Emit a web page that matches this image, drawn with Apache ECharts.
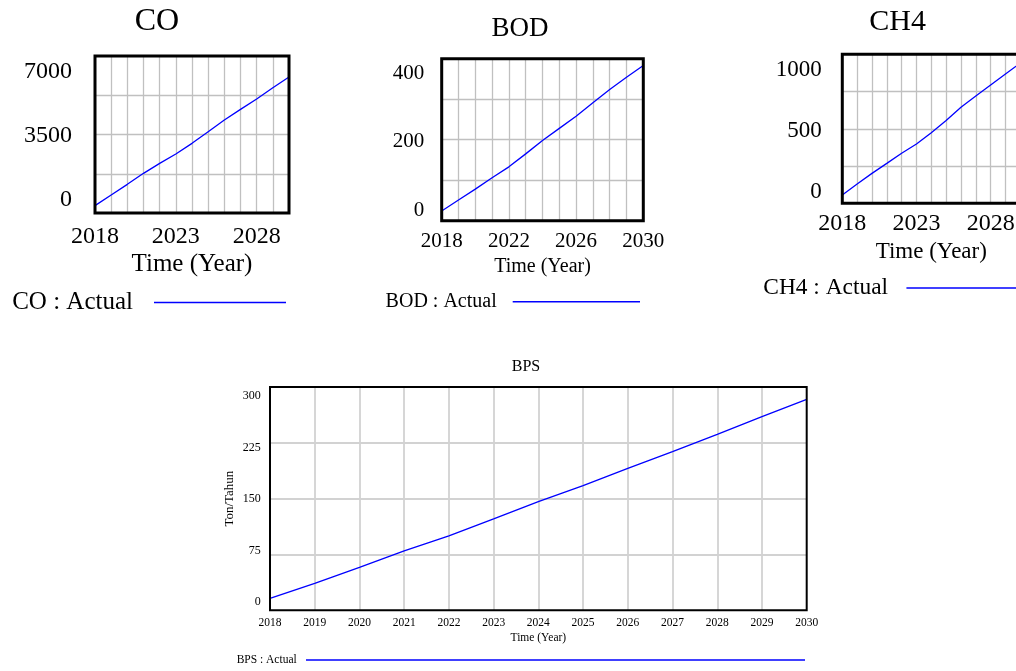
<!DOCTYPE html>
<html><head><meta charset="utf-8">
<script src="https://cdn.jsdelivr.net/npm/echarts@6/dist/echarts.min.js"></script>
<style>html,body{margin:0;padding:0;background:#fff}#c{width:1016px;height:671px}</style>
</head><body><div id="c"></div>
<script>
// ---- data ----
const years = [2018, 2019, 2020, 2021, 2022, 2023, 2024, 2025, 2026, 2027, 2028, 2029, 2030];
const coActual  = [327, 803, 1278, 1769, 2214, 2631, 3106, 3626, 4146, 4622, 5083, 5588, 6064];
const bodActual = [24, 51, 78, 106, 133, 165, 198, 228, 258, 291, 324, 354, 383];
const ch4Actual = [56, 130, 201, 268, 336, 398, 474, 555, 644, 720, 794, 868, 941];
const bpsActual = [16.1, 36.3, 57.8, 79.7, 99.9, 122.7, 146, 167.5, 190.8, 213.2, 236.4, 260.2, 283.5];

const coYTicks  = [0, 3500, 7000];
const coXTicks  = [2018, 2023, 2028];
const bodYTicks = [0, 200, 400];
const bodXTicks = [2018, 2022, 2026, 2030];
const ch4YTicks = [0, 500, 1000];
const ch4XTicks = [2018, 2023, 2028];
const bpsYTicks = [0, 75, 150, 225, 300];
const bpsXTicks = years;

const titles = ['CO', 'BOD', 'CH4', 'BPS'];
const seriesNames = ['CO : Actual', 'BOD : Actual', 'CH4 : Actual', 'BPS : Actual'];
const xName = 'Time (Year)';
const bpsYName = 'Ton/Tahun';

// ---- layout ----
const FONT = "'Liberation Serif','Times New Roman',serif";
const smallGrid = {color: '#c0c0c0', width: 1.3};
const bigGrid = {color: '#d2d2d2', width: 1.8};
const panels = [
  { data: coActual, yMax: 7000, yTicks: coYTicks, xTicks: coXTicks,
    grid: {left: 95, top: 56, width: 194, height: 157}, border: 3, inset: [16, 13], gl: smallGrid,
    fs: {y: 24, x: 24, name: 25, legend: 25, title: 32}, yMargin: 23, xMargin: 12, nameGap: 39,
    title: [157, 22], legend: {right: 730, top: 290, itemWidth: 132, gap: 16} },
  { data: bodActual, yMax: 400, yTicks: bodYTicks, xTicks: bodXTicks,
    grid: {left: 441.7, top: 58.7, width: 201.6, height: 162}, border: 3, inset: [14.3, 10.7], gl: smallGrid,
    fs: {y: 21, x: 21, name: 20, legend: 20, title: 27}, yMargin: 17.5, xMargin: 10.5, nameGap: 36,
    title: [520, 28.5], legend: {right: 376, top: 291.7, itemWidth: 127.3, gap: 11} },
  { data: ch4Actual, yMax: 1000, yTicks: ch4YTicks, xTicks: ch4XTicks,
    grid: {left: 842.3, top: 54.3, width: 178, height: 149}, border: 3, inset: [15.7, 11.6], gl: smallGrid,
    fs: {y: 23, x: 24, name: 23, legend: 23.4, title: 30}, yMargin: 20.5, xMargin: 8.7, nameGap: 37.5,
    title: [897.7, 22], legend: {left: 763.3, top: 276.6, itemWidth: 160, gap: 13.4} },
  { data: bpsActual, yMax: 300, yTicks: bpsYTicks, xTicks: bpsXTicks,
    grid: {left: 270, top: 387, width: 536.7, height: 223.3}, border: 2, inset: [8.7, 8], gl: bigGrid,
    fs: {y: 12, x: 11.5, name: 11.5, legend: 11.5, title: 16}, yMargin: 9.3, xMargin: 6.4, nameGap: 22,
    title: [526, 366.7], legend: {right: 211, top: 654, itemWidth: 499, gap: 4.3} }
];

const option = {
  backgroundColor: '#fff',
  animation: false,
  grid: [], xAxis: [], yAxis: [], series: [], legend: [], graphic: []
};

panels.forEach((p, i) => {
  option.grid.push(Object.assign({show: true, borderColor: '#000', borderWidth: p.border,
    backgroundColor: 'transparent', z: 3, containLabel: false, outerBoundsMode: 'none'}, p.grid));
  option.xAxis.push({
    type: 'value', gridIndex: i, min: years[0], max: years[years.length - 1], interval: 1,
    axisLine: {show: false}, axisTick: {show: false},
    splitLine: {show: true, showMinLine: false, showMaxLine: false, lineStyle: p.gl},
    axisLabel: {formatter: v => p.xTicks.includes(v) ? String(v) : '', fontSize: p.fs.x,
      fontFamily: FONT, color: '#000', margin: p.xMargin},
    name: xName, nameLocation: 'middle', nameGap: p.nameGap,
    nameTextStyle: {fontSize: p.fs.name, fontFamily: FONT, color: '#000'}
  });
  const mainY = {
    type: 'value', gridIndex: i, position: 'left', min: 0, max: p.yMax, interval: p.yMax / 4,
    axisLine: {show: false}, axisTick: {show: false}, axisLabel: {show: false},
    splitLine: {show: true, showMinLine: false, showMaxLine: false, lineStyle: p.gl}
  };
  if (i === 3) {
    Object.assign(mainY, {name: bpsYName, nameLocation: 'middle', nameRotate: 90, nameGap: 34,
      nameTextStyle: {fontSize: 13, fontFamily: FONT, color: '#000'}});
  }
  option.yAxis.push(mainY);
  // label axis: the end labels sit inset from the frame
  const k = p.yMax / (p.grid.height - p.inset[0] - p.inset[1]);
  option.yAxis.push({
    type: 'value', gridIndex: i, position: 'left',
    min: -p.inset[1] * k, max: p.yMax + p.inset[0] * k,
    axisLine: {show: false}, axisTick: {show: false}, splitLine: {show: false},
    axisLabel: {customValues: p.yTicks, formatter: v => String(v), fontSize: p.fs.y,
      fontFamily: FONT, color: '#000', margin: p.yMargin}
  });
  option.series.push({
    type: 'line', name: seriesNames[i], xAxisIndex: i, yAxisIndex: 2 * i,
    data: years.map((y, j) => [y, p.data[j]]),
    symbol: 'none', lineStyle: {color: '#0000ff', width: 1.3}, itemStyle: {color: '#0000ff'},
    z: 2
  });
  const lg = {
    data: [seriesNames[i]], orient: 'horizontal', align: 'right', icon: 'rect',
    itemWidth: p.legend.itemWidth, itemHeight: 1.5, padding: 0, selectedMode: false,
    top: p.legend.top,
    textStyle: {fontSize: p.fs.legend, fontFamily: FONT, color: '#000', padding: [0, p.legend.gap, 0, 0]}
  };
  if (p.legend.right !== undefined) lg.right = p.legend.right; else lg.left = p.legend.left;
  option.legend.push(lg);
  option.graphic.push({
    type: 'text', x: p.title[0], y: p.title[1],
    style: {text: titles[i], font: p.fs.title + 'px ' + FONT, fill: '#000',
      align: 'center', verticalAlign: 'middle', textAlign: 'center', textVerticalAlign: 'middle'}
  });
});

const chart = echarts.init(document.getElementById('c'), null, {renderer: 'canvas'});
chart.setOption(option);
</script>
</body></html>
